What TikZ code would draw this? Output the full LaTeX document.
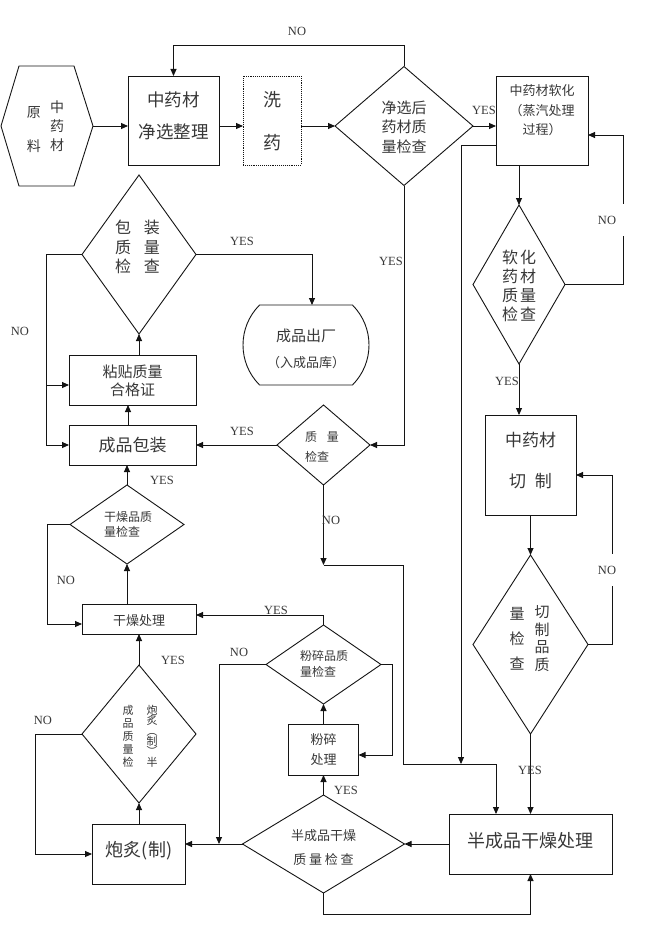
\documentclass[tikz,border=0pt]{standalone}
\usepackage{fontspec}
\setmainfont{Liberation Serif}
\newfontfamily\cjk{Noto Sans CJK SC}
\usetikzlibrary{shapes.geometric,shapes.misc,arrows.meta}
\newcommand\cjkfs[2]{\cjk\fontsize{#1}{#2}\selectfont}
\definecolor{ink}{gray}{0.08}
\definecolor{txt}{gray}{0.22}
\begin{document}
\begin{tikzpicture}[x=1pt,y=-1pt,line width=0.9pt,color=ink,
  every node/.style={inner sep=0pt,outer sep=0pt},
  box/.style={draw,rectangle},
  dbox/.style={draw,rectangle,densely dotted},
  dia/.style={draw,diamond},
  term/.style={draw,rounded rectangle,rounded rectangle arc length=90},
  tx/.style={text=txt,align=center},
  txl/.style={text=txt,align=left,anchor=west},
  yn/.style={text=txt,font=\fontsize{12.5}{14}\selectfont},
  gap/.style={yn,fill=white,inner xsep=8.5pt,inner ysep=12pt},
  arr/.style={-{Triangle[length=7pt,width=6pt]}}]
\fill[white] (0,0) rectangle (658,934);
\useasboundingbox (0,0) rectangle (658,934);

% ---------- shapes ----------
\node[minimum width=92pt,minimum height=120pt] (raw) at (47,126) {};
\draw (raw.west) -- ([xshift=18pt]raw.north west) -- ([xshift=-19pt]raw.north east)
  -- (raw.east) -- ([xshift=-19pt]raw.south east) -- ([xshift=18pt]raw.south west) -- cycle;
\node[box,minimum width=91pt,minimum height=89pt] (b1) at (173.5,120.5) {};
\node[dbox,minimum width=58pt,minimum height=89pt] (wash) at (272,120.5) {};
\node[dia,minimum width=138pt,minimum height=119pt] (d1) at (404,126) {};
\node[box,minimum width=92pt,minimum height=89pt] (b2) at (542,120.5) {};
\node[dia,minimum width=92pt,minimum height=159pt] (d2) at (519,284.5) {};
\node[box,minimum width=91pt,minimum height=100pt] (b3) at (530.5,465) {};
\node[dia,minimum width=115pt,minimum height=179pt] (d3) at (530.5,644.5) {};
\node[box,minimum width=163pt,minimum height=60pt] (b4) at (530.5,844) {};
\node[dia,minimum width=162pt,minimum height=98pt] (d4) at (323.5,844) {};
\node[box,minimum width=70pt,minimum height=51pt] (b5) at (323.5,749.5) {};
\node[dia,minimum width=115pt,minimum height=79pt] (d5) at (323.5,664.5) {};
\node[box,minimum width=93pt,minimum height=60pt] (b6) at (138.5,854) {};
\node[dia,minimum width=114pt,minimum height=138pt] (d6) at (139,734) {};
\node[box,minimum width=114pt,minimum height=30pt] (b7) at (139,619) {};
\node[dia,minimum width=114pt,minimum height=79pt] (d7) at (127,524.5) {};
\node[box,minimum width=127pt,minimum height=40pt] (b8) at (132.5,445) {};
\node[box,minimum width=127pt,minimum height=50pt] (b9) at (132.5,380) {};
\node[dia,minimum width=114pt,minimum height=159pt] (d8) at (139,254.5) {};
\node[term,minimum width=126pt,minimum height=80pt] (out) at (306,345) {};
\node[dia,minimum width=93pt,minimum height=80pt] (d9) at (323.5,445) {};

% ---------- texts ----------
\node[tx,font=\cjkfs{14}{34}] (rawa) at (34,130) {原\\料};
\node[tx,font=\cjkfs{14}{19}] (rawb) at (57,126) {中\\药\\材};
\node[tx,font=\cjkfs{17.5}{32}] (b1t) at (173.5,116) {中药材\\净选整理};
\node[tx,font=\cjkfs{18}{43}] (washt) at (272,121.5) {洗\\药};
\node[tx,font=\cjkfs{15}{19.5}] (d1t) at (404,127) {净选后\\药材质\\量检查};
\node[tx,font=\cjkfs{13}{19.5}] (b2t) at (542,110.5) {中药材软化\\（蒸汽处理\\过程）};
\node[tx,font=\cjkfs{16}{19}] (d2t) at (519,286) {软\kern2pt化\\药\kern2pt材\\质\kern2pt量\\检\kern2pt查};
\node[tx,font=\cjkfs{17}{41}] (b3t) at (530.5,460.5) {中药材\\切\hspace{9pt}制};
\node[tx,font=\cjkfs{15}{25}] (d3a) at (517,639) {量\\检\\查};
\node[tx,font=\cjkfs{15}{17.7}] (d3b) at (542,638.5) {切\\制\\品\\质};
\node[tx,font=\cjkfs{18}{22}] (b4t) at (530.5,841) {半成品干燥处理};
\node[tx,font=\cjkfs{13}{24}] (d4t) at (323.5,848) {半成品干燥\\质\kern2.7pt量\kern2.7pt检\kern2.7pt查};
\node[tx,font=\cjkfs{13}{20}] (b5t) at (323.5,750) {粉碎\\处理};
\node[txl,font=\cjkfs{12}{16}] (d5t) at (300,664) {粉碎品质\\量检查};
\node[tx,font=\cjkfs{18}{22}] (b6t) at (139,851) {炮炙(制)};
\node[tx,font=\cjkfs{11}{13}] (d6a) at (128,736) {成\\品\\质\\量\\检};
\node[tx,font=\cjkfs{11}{10.4}] (d6b) at (152,736) {炮\\炙\\︵\\制\\︶\\半};
\node[tx,font=\cjkfs{13}{16}] (b7t) at (139,621) {干燥处理};
\node[txl,font=\cjkfs{12}{15}] (d7t) at (104,524.5) {干燥品质\\量检查};
\node[tx,font=\cjkfs{17}{20}] (b8t) at (132.5,445) {成品包装};
\node[tx,font=\cjkfs{15}{18}] (b9t) at (132.5,381) {粘贴质量\\合格证};
\node[tx,font=\cjkfs{16}{19.5}] (d8t) at (137.5,247) {包\hspace{13pt}装\\质\hspace{13pt}量\\检\hspace{13pt}查};
\node[tx,font=\cjkfs{15}{26}] (outt) at (306,349) {成品出厂\\{\fontsize{13}{26}\selectfont （入成品库）}};
\node[txl,font=\cjkfs{12}{20}] (d9t) at (305,447) {质\hspace{10pt}量\\检查};

% ---------- connectors ----------
\draw[arr] (raw.east) -- (raw.east -| b1.west);
\draw[arr] (b1.east |- d1) -- (wash.west |- d1);
\draw[arr] (wash.east |- d1) -- (d1.west);
\draw[arr] (d1.east) -- (d1.east -| b2.west);
\draw[arr] (d1.north) -- ++(0,-21) -| (b1.north);
\draw[arr] (b2.south -| d2.north) -- (d2.north);
\coordinate (n2) at (623,135);
\draw[arr] (d2.east) -| (n2) -- (n2 -| b2.east);
\draw[arr] (d2.south) -- (d2.south |- b3.north);
\draw[arr] (b3.south -| d3.north) -- (d3.north);
\coordinate (n3) at (612,475);
\draw[arr] (d3.east) -| (n3) -- (n3 -| b3.east);
\draw[arr] (d3.south) -- (d3.south |- b4.north);
\draw[arr] (d1.south) |- (d9.east);
\coordinate (j0) at (323.5,565);
\coordinate (j1) at (461,764);
\coordinate (j2) at (403,764);
\coordinate (j4) at (496,764);
\draw[arr] (d9.south) -- (j0);
\draw[arr] (j0) -| (j2) -- (j4) -- (j4 |- b4.north);
\draw[arr] ([yshift=-24.5pt]b2.west) -| (j1);
\draw[arr] (d9.west) -- (b8.east);
\draw[arr] (d8.east) -| ([xshift=6pt]out.north);
\coordinate (n8) at (46,445);
\draw[arr] (d8.west) -| (n8) -- (b8.west);
\coordinate (n9) at (46,385);
\draw[arr] (n9) -- (n9 -| b9.west);
\draw[arr] ([xshift=-4.5pt]b8.north) -- ([xshift=-4.5pt]b9.south);
\draw[arr] (b9.north -| d8.south) -- (d8.south);
\draw[arr] (d7.north) -- (d7.north |- b8.south);
\draw[arr] (b7.north -| d7.south) -- (d7.south);
\coordinate (n7) at (47,624);
\draw[arr] (d7.west) -| (n7) -- (n7 -| b7.west);
\draw[arr] (d6.north) -- (d6.north |- b7.south);
\draw[arr] (b6.north -| d6.south) -- (d6.south);
\coordinate (n6) at (35,854);
\draw[arr] (d6.west) -| (n6) -- (b6.west);
\draw[arr] (d4.west) -- (d4.west -| b6.east);
\coordinate (j3) at (219,844);
\draw[arr] (d5.west) -| (j3);
\draw[arr] (d5.north) |- ([yshift=4pt]b7.east);
\coordinate (n5) at (392,755);
\draw[arr] (d5.east) -| (n5) -- (n5 -| b5.east);
\draw[arr] (b5.north) -- (d5.south);
\draw[arr] (d4.north) -- (b5.south);
\draw[arr] (b4.west |- d4) -- (d4.east);
\draw[arr] (d4.south) -- ++(0,21) -| (b4.south);

% ---------- branch labels ----------
\node[yn] (l1) at (297,31) {NO};
\node[yn] (l2) at (484,110) {YES};
\node[yn] (l3) at (391,261) {YES};
\node[gap] (l4) at (607,220) {NO};
\node[yn] (l5) at (507,381) {YES};
\node[gap] (l6) at (607,570) {NO};
\node[yn] (l7) at (530,770) {YES};
\node[yn] (l8) at (242,241) {YES};
\node[yn] (l9) at (20,331) {NO};
\node[yn] (l10) at (242,431) {YES};
\node[yn] (l11) at (331,520) {NO};
\node[yn] (l12) at (162,480) {YES};
\node[yn] (l13) at (66,580) {NO};
\node[yn] (l14) at (276,610) {YES};
\node[yn] (l15) at (239,652) {NO};
\node[yn] (l16) at (173,660) {YES};
\node[yn] (l17) at (43,720) {NO};
\node[yn] (l18) at (346,790) {YES};
\end{tikzpicture}
\end{document}
